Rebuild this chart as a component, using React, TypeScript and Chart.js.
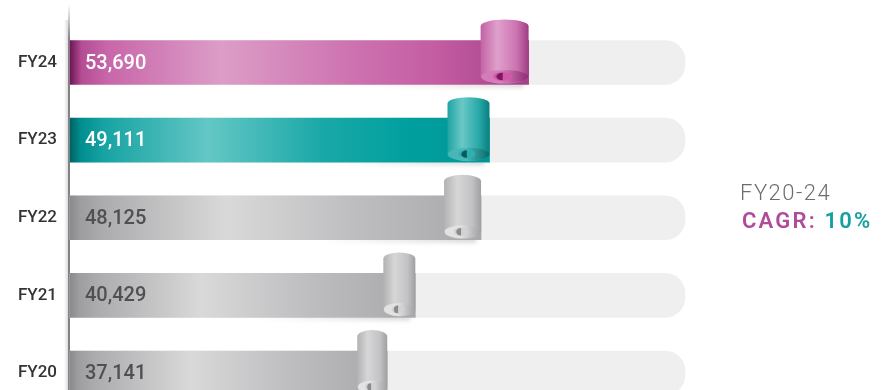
import React, { useEffect, useRef } from "react";
import { Chart, registerables } from "chart.js";
Chart.register(...registerables);

// ---- data ----
const categories = ["FY24", "FY23", "FY22", "FY21", "FY20"];
const revenue = [53690, 49111, 48125, 40429, 37141];
const trackValues = [72000, 72000, 72000, 72000, 72000];
const axisMax = 72000;
const cagrPeriod = "FY20-24";
const cagrLabel = "CAGR:";
const cagrValue = "10%";

// ---- styles ----
type Stop = [number, string];
interface Pal { bar: Stop[]; roll: Stop[]; open: [string, string]; curl: [string, string]; label: string; }
const MAGENTA: Pal = {
  bar: [[0, "#6e1656"], [0.025, "#b44d94"], [0.08, "#c866a9"], [0.33, "#dc9dc7"], [0.62, "#cd72b0"], [0.8, "#c45ca2"], [0.95, "#ab4890"], [1, "#a24188"]],
  roll: [[0, "#c263a5"], [0.35, "#dfa0cb"], [0.75, "#cc74b1"], [1, "#9e3c83"]],
  open: ["#d37cb9", "#8e2a72"], curl: ["#d258aa", "#7a1860"], label: "#ffffff",
};
const TEAL: Pal = {
  bar: [[0, "#006264"], [0.025, "#008d8e"], [0.08, "#17a3a3"], [0.33, "#63c7c5"], [0.6, "#1aa8a7"], [0.8, "#00a09f"], [1, "#009695"]],
  roll: [[0, "#1fa4a4"], [0.35, "#6ac8c6"], [0.75, "#27a9a8"], [1, "#0a7e80"]],
  open: ["#48b7b5", "#07696b"], curl: ["#2db2b1", "#0a5a5c"], label: "#ffffff",
};
const GRAY: Pal = {
  bar: [[0, "#8a8a8c"], [0.025, "#9d9d9f"], [0.08, "#acacae"], [0.38, "#d9d9da"], [0.7, "#bdbdbf"], [1, "#a9a9ab"]],
  roll: [[0, "#b2b2b4"], [0.35, "#d6d6d7"], [0.75, "#c3c3c5"], [1, "#a0a0a2"]],
  open: ["#e2e2e3", "#a0a0a2"], curl: ["#d2d2d4", "#8a8a8c"], label: "#505052",
};
const palettes = [MAGENTA, TEAL, GRAY, GRAY, GRAY];
const rollWidths = [48, 42, 37, 32, 30];
const FONT = "Roboto, 'Noto Sans', sans-serif";

function fmt(v: number) {
  return v.toLocaleString("en-US");
}

function drawRoll(ctx: CanvasRenderingContext2D, xe: number, barTop: number, barBot: number, w: number, pal: Pal) {
  const left = xe - w, right = xe, cx = xe - w / 2, rx = w / 2;
  const top = barTop - 21, bot = barBot - 1;
  const ryT = 6.5, ryB = 7;
  ctx.save();
  const g = ctx.createLinearGradient(left, 0, right, 0);
  pal.roll.forEach(([o, c]) => g.addColorStop(o, c));
  ctx.beginPath();
  ctx.moveTo(left, top + ryT);
  ctx.ellipse(cx, top + ryT, rx, ryT, 0, Math.PI, 2 * Math.PI);
  ctx.lineTo(right, bot - ryB);
  ctx.ellipse(cx, bot - ryB, rx, ryB, 0, 0, Math.PI);
  ctx.closePath();
  ctx.fillStyle = g;
  ctx.fill();
  const og = ctx.createLinearGradient(left, 0, right, 0);
  og.addColorStop(0, pal.open[0]);
  og.addColorStop(0.45, pal.open[0]);
  og.addColorStop(1, pal.open[1]);
  ctx.beginPath();
  ctx.ellipse(cx, bot - ryB, rx - 0.5, ryB - 0.5, 0, 0, 2 * Math.PI);
  ctx.fillStyle = og;
  ctx.fill();
  ctx.beginPath();
  ctx.ellipse(cx - w * 0.04, bot - ryB, w * 0.2, ryB * 0.6, 0, 0, 2 * Math.PI);
  ctx.fillStyle = pal.curl[0];
  ctx.fill();
  ctx.beginPath();
  ctx.moveTo(cx - w * 0.04, bot - ryB - ryB * 0.55);
  ctx.lineTo(cx - w * 0.04, bot - ryB + ryB * 0.55);
  ctx.ellipse(cx - w * 0.04, bot - ryB, w * 0.13, ryB * 0.55, 0, Math.PI / 2, Math.PI * 1.5);
  ctx.closePath();
  ctx.fillStyle = pal.curl[1];
  ctx.fill();
  ctx.restore();
}

const decorPlugin = {
  id: "decor",
  beforeDatasetsDraw(chart: any) {
    const ctx: CanvasRenderingContext2D = chart.ctx;
    const area = chart.chartArea;
    const meta = chart.getDatasetMeta(0);
    ctx.save();
    meta.data.forEach((el: any) => {
      const yb = el.y + el.height / 2;
      const sg = ctx.createLinearGradient(el.x - 160, 0, el.x, 0);
      sg.addColorStop(0, "rgba(0,0,0,0)");
      sg.addColorStop(1, "rgba(0,0,0,0.16)");
      ctx.filter = "blur(2px)";
      ctx.fillStyle = sg;
      ctx.fillRect(el.x - 160, yb - 3, 155, 6);
      ctx.filter = "none";
    });
    const vg = ctx.createLinearGradient(0, 4, 0, 40);
    vg.addColorStop(0, "rgba(130,130,132,0)");
    vg.addColorStop(1, "rgba(130,130,132,1)");
    ctx.fillStyle = vg;
    ctx.fillRect(area.left - 2, 4, 2, chart.height);
    const hg = ctx.createLinearGradient(area.left - 6, 0, area.left - 2, 0);
    hg.addColorStop(0, "rgba(180,180,180,0)");
    hg.addColorStop(1, "rgba(180,180,180,0.6)");
    ctx.globalAlpha = 0.8;
    ctx.fillStyle = hg;
    ctx.fillRect(area.left - 6, 20, 4, chart.height);
    ctx.restore();
  },
  afterDatasetsDraw(chart: any) {
    const ctx: CanvasRenderingContext2D = chart.ctx;
    const area = chart.chartArea;
    const meta = chart.getDatasetMeta(0);
    meta.data.forEach((el: any, i: number) => {
      const pal = palettes[i];
      const top = el.y - el.height / 2;
      const bot = el.y + el.height / 2;
      drawRoll(ctx, el.x, top, bot, rollWidths[i], pal);
      ctx.save();
      ctx.font = `500 20px ${FONT}`;
      ctx.fillStyle = pal.label;
      ctx.textBaseline = "middle";
      ctx.textAlign = "left";
      ctx.fillText(fmt(revenue[i]), area.left + 15, el.y + 1);
      ctx.restore();
    });
    ctx.save();
    ctx.textBaseline = "alphabetic";
    ctx.textAlign = "left";
    (ctx as any).letterSpacing = "1.5px";
    ctx.font = `300 22px ${FONT}`;
    ctx.fillStyle = "#6d6d6f";
    ctx.fillText(cagrPeriod, 740, 200);
    (ctx as any).letterSpacing = "2.2px";
    ctx.font = `600 22px ${FONT}`;
    ctx.fillStyle = "#b24a9b";
    ctx.fillText(cagrLabel, 742, 228);
    const w1 = ctx.measureText(cagrLabel + " ").width;
    ctx.fillStyle = "#15a0a0";
    ctx.fillText(cagrValue, 742 + w1, 228);
    ctx.restore();
  },
};

const noScalePadding = (s: any) => {
  s.paddingTop = 0;
  s.paddingBottom = 0;
};

export default function App() {
  const ref = useRef<HTMLCanvasElement | null>(null);
  useEffect(() => {
    if (!ref.current) return;
    const chart = new Chart(ref.current, {
      type: "bar",
      data: {
        labels: categories,
        datasets: [
          {
            label: "Revenue",
            data: revenue,
            order: 0,
            barThickness: 44,
            grouped: false,
            borderWidth: 0,
            clip: false,
            backgroundColor: (c: any) => {
              const ch = c.chart;
              const xs = ch.scales?.x;
              const pal = palettes[c.dataIndex] || GRAY;
              if (!xs || !ch.chartArea || c.raw == null) return pal.bar[3][1];
              const x0 = xs.getPixelForValue(0);
              const x1 = xs.getPixelForValue(c.raw);
              const g = ch.ctx.createLinearGradient(x0, 0, x1, 0);
              pal.bar.forEach(([o, col]: Stop) => g.addColorStop(o, col));
              return g;
            },
          } as any,
          {
            label: "Track",
            data: trackValues,
            order: 1,
            barThickness: 44,
            grouped: false,
            clip: false,
            backgroundColor: "#efefef",
            borderWidth: 0,
            borderRadius: 20,
            borderSkipped: "start",
          } as any,
        ],
      },
      options: {
        indexAxis: "y",
        animation: false,
        responsive: false,
        maintainAspectRatio: false,
        devicePixelRatio: 1,
        layout: { padding: { top: 62.5, right: 198, left: 0, bottom: 17 } },
        plugins: { legend: { display: false }, tooltip: { enabled: false } },
        scales: {
          x: { display: false, min: 0, max: axisMax, afterFit: noScalePadding },
          y: {
            offset: false,
            grid: { display: false, drawTicks: false, tickLength: 0, offset: false },
            border: { display: false },
            ticks: { color: "#333335", padding: 13, autoSkip: false, font: { family: FONT, size: 17, weight: "500" } },
            afterFit: (s: any) => { s.width = 70; noScalePadding(s); },
          },
        },
      } as any,
      plugins: [decorPlugin],
    });
    return () => chart.destroy();
  }, []);
  return (
    <div style={{ position: "fixed", left: 0, top: 0, width: 883, height: 390, overflow: "hidden", background: "#fff" }}>
      <canvas ref={ref} width={883} height={390} style={{ display: "block", width: 883, height: 390 }} />
    </div>
  );
}
